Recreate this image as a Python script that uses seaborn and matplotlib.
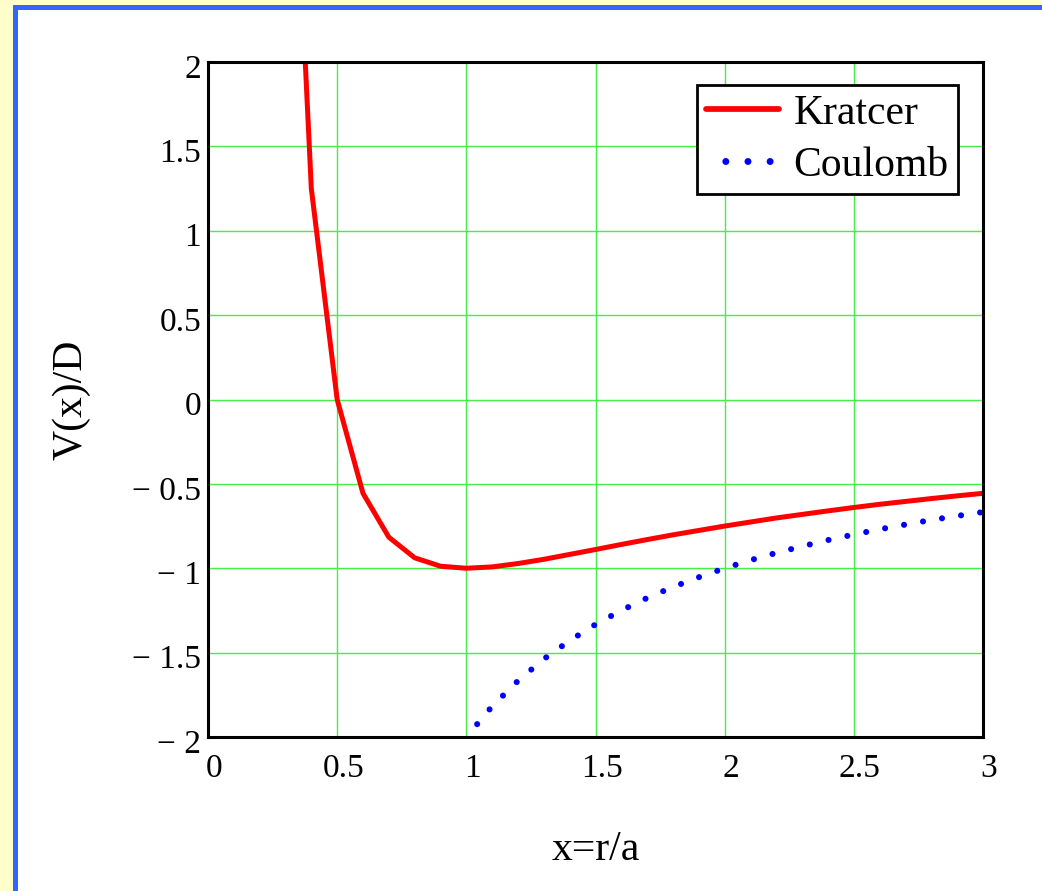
import numpy as np
import pandas as pd
import matplotlib
matplotlib.use("Agg")
import matplotlib.pyplot as plt
import matplotlib.transforms as mtransforms
from matplotlib.patches import Rectangle
import seaborn as sns

# ---- data ----
kratzer_x = [0.3, 0.4, 0.5, 0.6, 0.7, 0.8, 0.9, 1.0, 1.1, 1.2, 1.3, 1.4, 1.5,
             1.6, 1.7, 1.8, 1.9, 2.0, 2.1, 2.2, 2.3, 2.4, 2.5, 2.6, 2.7, 2.8,
             2.9, 3.0]
kratzer_y = [4.44, 1.25, 0.0, -0.556, -0.816, -0.938, -0.988, -1.0, -0.992,
             -0.972, -0.947, -0.918, -0.889, -0.859, -0.830, -0.802, -0.776,
             -0.75, -0.726, -0.702, -0.681, -0.660, -0.64, -0.621, -0.604,
             -0.587, -0.571, -0.556]
coulomb_x = [1.0, 1.1, 1.2, 1.3, 1.4, 1.5, 1.6, 1.7, 1.8, 1.9, 2.0, 2.1, 2.2,
             2.3, 2.4, 2.5, 2.6, 2.7, 2.8, 2.9, 3.0]
coulomb_y = [-2.0, -1.818, -1.667, -1.538, -1.429, -1.333, -1.25, -1.176,
             -1.111, -1.053, -1.0, -0.952, -0.909, -0.870, -0.833, -0.8,
             -0.769, -0.741, -0.714, -0.690, -0.667]
x_ticks = [0, 0.5, 1, 1.5, 2, 2.5, 3]
x_tick_labels = ["0", "0.5", "1", "1.5", "2", "2.5", "3"]
y_ticks = [-2, -1.5, -1, -0.5, 0, 0.5, 1, 1.5, 2]
y_tick_labels = ["\u2212 2", "\u2212 1.5", "\u2212 1", "\u2212 0.5", "0",
                 "0.5", "1", "1.5", "2"]
series_names = ["Kratcer", "Coulomb"]

sns.set_style("white")
plt.rcParams["font.family"] = ["Liberation Serif", "DejaVu Serif"]
plt.rcParams["text.color"] = "black"
plt.rcParams["axes.labelcolor"] = "black"
plt.rcParams["xtick.color"] = "black"
plt.rcParams["ytick.color"] = "black"

W, H = 1042, 891
fig = plt.figure(figsize=(W / 100, H / 100), dpi=100, facecolor="white")

# frame decoration: yellow margin and blue border
yellow = "#FFFFCC"
blue = "#3366FF"
fig.patches.append(Rectangle((0, 0), 13 / W, 1, transform=fig.transFigure,
                             facecolor=yellow, edgecolor="none", zorder=0))
fig.patches.append(Rectangle((0, 1 - 5 / H), 1, 5 / H, transform=fig.transFigure,
                             facecolor=yellow, edgecolor="none", zorder=0))
fig.patches.append(Rectangle((13 / W, 0), 5 / W, 1 - 5 / H, transform=fig.transFigure,
                             facecolor=blue, edgecolor="none", zorder=1))
fig.patches.append(Rectangle((13 / W, 1 - 10 / H), 1 - 13 / W, 5 / H,
                             transform=fig.transFigure,
                             facecolor=blue, edgecolor="none", zorder=1))

left, right, top, bottom = 208, 983, 62, 737
ax = fig.add_axes([left / W, 1 - bottom / H, (right - left) / W, (bottom - top) / H])
ax.set_facecolor("white")

dk = pd.DataFrame({"x": kratzer_x, "y": kratzer_y})
dc = pd.DataFrame({"x": coulomb_x, "y": coulomb_y})
sns.lineplot(data=dk, x="x", y="y", ax=ax, color="#FF0000", linewidth=3.6,
             label=series_names[0], sort=False, zorder=3)
sns.lineplot(data=dc, x="x", y="y", ax=ax, color="#0000FF", linewidth=4.4,
             linestyle=(0.4, (0.001, 3.15)), dash_capstyle="round",
             label=series_names[1], sort=False, zorder=3)

ax.set_xlim(0, 3)
ax.set_ylim(-2, 2)
ax.set_xticks(x_ticks)
ax.set_xticklabels(x_tick_labels)
ax.set_yticks(y_ticks)
ax.set_yticklabels(y_tick_labels)
ax.tick_params(axis="both", length=0, labelsize=24, colors="black")
ax.tick_params(axis="x", pad=12)
ax.tick_params(axis="y", pad=5)

# small offsets of tick labels as in the reference
offx = mtransforms.ScaledTranslation(6 / 100, 0, fig.dpi_scale_trans)
for lab in ax.get_xticklabels():
    lab.set_transform(lab.get_transform() + offx)
offy = mtransforms.ScaledTranslation(0, -4 / 100, fig.dpi_scale_trans)
for lab in ax.get_yticklabels():
    lab.set_transform(lab.get_transform() + offy)

ax.grid(True, color="#44EE44", linewidth=1.0)
ax.set_axisbelow(True)
for s in ax.spines.values():
    s.set_visible(True)
    s.set_color("black")
    s.set_linewidth(2.2)
    s.set_zorder(4)

ax.set_xlabel("x=r/a", fontsize=30)
ax.set_ylabel("V(x)/D", fontsize=30)
ax.xaxis.set_label_coords(0.5, (bottom - 850) / (bottom - top))
ax.xaxis.label.set_va("center")
ax.yaxis.set_label_coords((71 - left) / (right - left), 0.5)
ax.yaxis.label.set_va("center")

leg = ax.legend(loc="upper right",
                bbox_to_anchor=((958 - left) / (right - left), (bottom - 85) / (bottom - top)),
                borderaxespad=0, fontsize=30, frameon=True, fancybox=False,
                framealpha=1, edgecolor="black", handlelength=1.75,
                handletextpad=0.35, labelspacing=0.32, borderpad=0.22)
leg.get_frame().set_linewidth(2.0)
leg.set_zorder(5)
for h in leg.get_lines():
    h.set_linewidth(h.get_linewidth() * 1.15)

fig.savefig("out.png", dpi=100, facecolor=fig.get_facecolor())
